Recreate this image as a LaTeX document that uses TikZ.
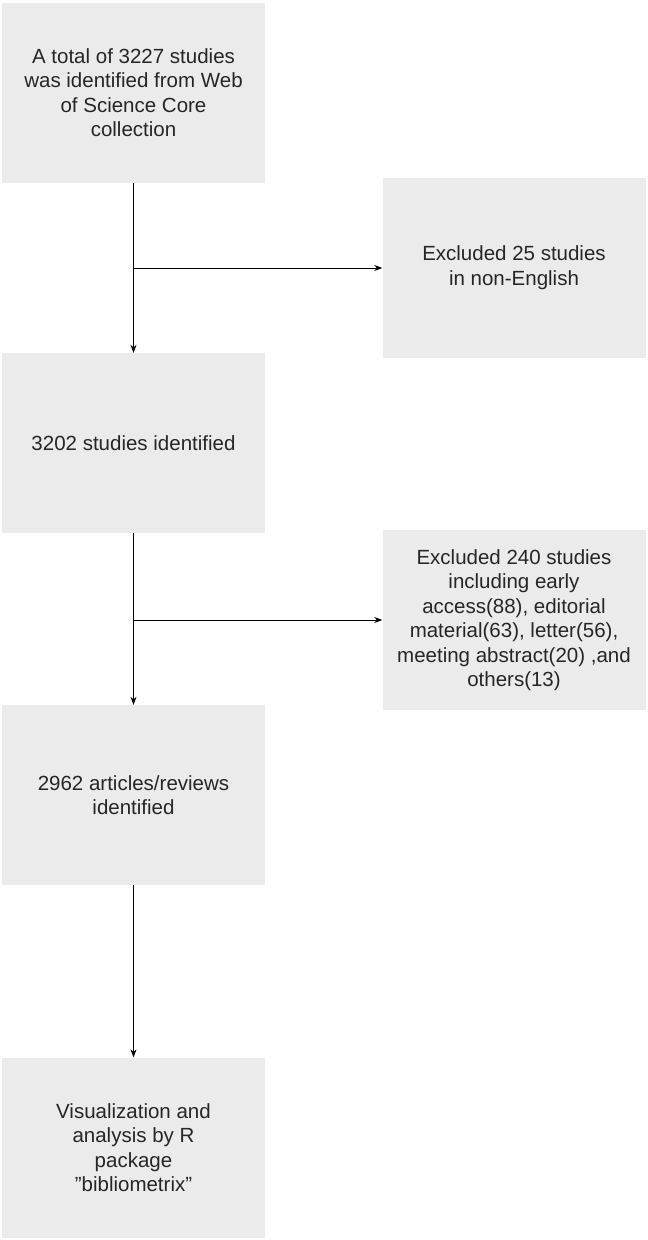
\documentclass[tikz,border=0pt]{standalone}
\usepackage{fontspec}
\setmainfont{Liberation Sans}
\usetikzlibrary{arrows.meta}
\begin{document}
\begin{tikzpicture}[x=1pt,y=-1pt,
  boxst/.style={fill=boxgray,draw=none,minimum width=263pt,minimum height=180pt,align=center,inner sep=0pt,
    font=\fontsize{20.5}{24.5}\selectfont,text=black!85},
  arr/.style={-{Stealth[length=8pt,width=6pt]},line width=0.8pt}]
\definecolor{boxgray}{HTML}{EBEBEB}
\useasboundingbox (0,0) rectangle (648,1240);
\node[boxst] (b1) at (133.5,92.5) {A total of 3227 studies\\was identified from Web\\of Science Core\\collection};
\node[boxst] (r1) at (514,267.5) {Excluded 25 studies\\in non-English};
\node[boxst] (b2) at (133.5,443) {3202 studies identified};
\node[boxst] (r2) at (514,620) {Excluded 240 studies\\including early\\access(88), editorial\\material(63), letter(56),\\meeting abstract(20) ,and\\others(13)};
\node[boxst] (b3) at (133.5,795) {2962 articles/reviews\\identified};
\node[boxst] (b4) at (133.5,1147.5) {Visualization and\\analysis by R\\package\\"bibliometrix"};
\draw[arr] (b1.south) -- (b2.north);
\coordinate (j1) at (133.5,268);
\draw[arr] (j1) -- (r1.west |- j1);
\draw[arr] (b2.south) -- (b3.north);
\coordinate (j2) at (133.5,620);
\draw[arr] (j2) -- (r2.west |- j2);
\draw[arr] (b3.south) -- (b4.north);
\end{tikzpicture}
\end{document}
